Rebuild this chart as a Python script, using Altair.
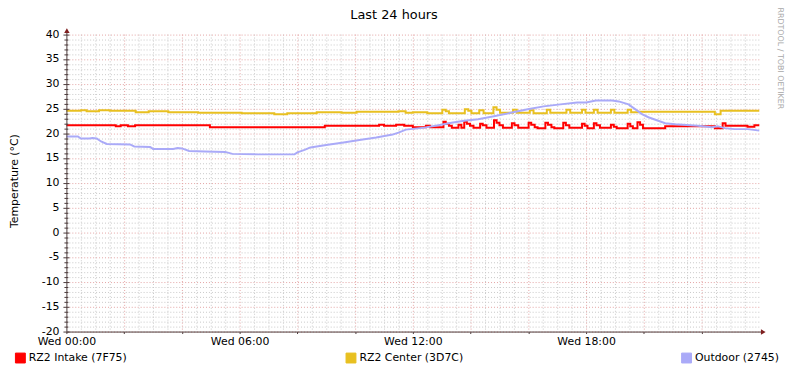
import altair as alt
import pandas as pd

# ---------------- data ----------------
series_names = ["RZ2 Intake (7F75)", "RZ2 Center (3D7C)", "Outdoor (2745)"]
series_colors = ["#FF0000", "#E8C020", "#AAAAF8"]

intake_h = [0, 1.71, 1.88, 2.13, 2.38, 4.97, 8.95, 10.83, 11.0, 11.42, 11.7, 12.0, 12.45, 12.6,
            13.06, 13.14, 13.25, 13.35, 13.58, 13.68, 13.78, 13.87, 13.98, 14.1,
            14.33, 14.42, 14.55, 14.81, 14.9, 15.0, 15.12, 15.43, 15.52, 15.65,
            16.01, 16.1, 16.22, 16.32, 16.59, 16.68, 16.8, 16.9, 17.21, 17.3, 17.42,
            17.86, 17.95, 18.05, 18.27, 18.36, 18.48, 18.86, 18.96, 19.06,
            19.44, 19.53, 19.62, 19.78, 19.87, 19.97, 20.74, 22.46, 22.73, 22.83,
            23.59, 23.83, 24.0]
intake_v = [21.7, 21.5, 21.7, 21.5, 21.7, 21.3, 21.6, 21.8, 21.6, 21.8, 21.6, 21.3, 21.6, 21.3,
            22.4, 22.0, 21.6, 21.2, 21.8, 21.2, 22.4, 22.0, 21.6, 21.2,
            22.0, 21.7, 21.2, 22.7, 22.2, 21.7, 21.2, 22.1, 21.7, 21.2,
            22.2, 21.8, 21.3, 21.1, 22.2, 21.8, 21.3, 21.1, 22.2, 21.7, 21.2,
            22.0, 21.6, 21.1, 22.1, 21.7, 21.2, 21.8, 21.4, 21.1,
            22.0, 21.5, 21.1, 22.3, 21.8, 21.1, 21.5, 21.1, 22.1, 21.6,
            21.4, 21.7, 21.7]

center_h = [0, 0.5, 0.7, 1.13, 1.5, 2.4, 2.85, 3.53, 4.56, 6.07, 7.2, 7.65, 8.67, 9.53, 10.05,
            11.5, 11.75, 12.0, 12.5,
            13.02, 13.14, 13.25, 13.8, 13.92, 14.03, 14.3, 14.45, 14.79, 14.9, 15.02,
            15.47, 15.6, 16.05, 16.18, 16.64, 16.76, 17.32, 17.45, 17.86, 17.98,
            18.27, 18.4, 18.86, 18.98, 19.44, 19.56, 19.8, 22.46, 22.66, 24.0]
center_v = [24.6, 24.7, 24.5, 24.7, 24.6, 24.3, 24.5, 24.3, 24.2, 24.1, 23.9, 24.1, 24.3, 24.2, 24.4,
            24.5, 24.2, 24.3, 24.1,
            24.8, 24.5, 24.1, 24.9, 24.6, 24.1, 24.7, 24.1, 25.3, 24.8, 24.2,
            24.8, 24.2, 24.7, 24.1, 24.8, 24.2, 24.8, 24.2, 24.8, 24.2,
            24.8, 24.2, 24.8, 24.2, 24.8, 24.3, 24.4, 23.9, 24.6, 24.6]

outdoor_h = [0, 0.4, 0.5, 0.8, 0.9, 1.05, 1.2, 1.4, 2.2, 2.35, 2.9, 3.0, 3.7, 3.85, 4.0, 4.25,
             4.8, 5.5, 5.75, 6.6, 7.9, 8.0, 8.25, 8.45, 9.0, 9.6, 10.15, 10.73, 11.3, 11.5,
             11.76, 12.4, 12.89, 13.34, 13.78, 14.26, 14.81, 15.39, 15.98, 16.53, 17.11,
             17.69, 18.0, 18.34, 18.9, 19.13, 19.47, 19.71, 19.95, 20.16, 20.4, 20.74,
             21.09, 21.87, 22.35, 22.56, 22.8, 23.14, 23.6, 24.0]
outdoor_v = [19.4, 19.4, 19.0, 19.0, 19.1, 19.0, 18.4, 17.9, 17.8, 17.4, 17.3, 16.9, 16.9, 17.1, 17.0, 16.5,
             16.4, 16.3, 15.9, 15.8, 15.8, 16.2, 16.7, 17.2, 17.7, 18.2, 18.7, 19.2, 19.8, 20.2,
             20.8, 21.2, 21.7, 22.2, 22.6, 22.9, 23.5, 24.2, 24.9, 25.5, 25.9,
             26.3, 26.3, 26.7, 26.7, 26.5, 25.9, 24.9, 23.9, 23.3, 22.8, 22.1,
             21.9, 21.6, 21.3, 21.5, 21.1, 20.9, 20.9, 20.6]

y_major = [-20, -15, -10, -5, 0, 5, 10, 15, 20, 25, 30, 35, 40]
y_labels = ["-20", "-15", "-10", "-5", "0", "5", "10", "15", "20", "25", "30", "35", "40"]
y_minor = [v for v in range(-20, 41) if v % 5 != 0]
x_major = [2, 4, 6, 8, 10, 12, 14, 16, 18, 20, 22]
x_minor = [h / 2 for h in range(1, 48) if h % 4 != 0]
x_label_hours = [0, 6, 12, 18]
x_label_text = ["Wed 00:00", "Wed 06:00", "Wed 12:00", "Wed 18:00"]

title_text = "Last 24 hours"
y_title = "Temperature (°C)"
side_text = "RRDTOOL / TOBI OETIKER"

# ---------------- tables ----------------
df_steps = pd.concat([
    pd.DataFrame({"h": intake_h, "v": intake_v, "series": series_names[0]}),
    pd.DataFrame({"h": center_h, "v": center_v, "series": series_names[1]}),
], ignore_index=True)
df_out = pd.DataFrame({"h": outdoor_h, "v": outdoor_v, "series": series_names[2]})
df_all = pd.concat([df_steps, df_out], ignore_index=True)
df_ylab = pd.DataFrame({"v": y_major, "lab": y_labels})

W, H = 700, 300
FONT = "DejaVu Sans"
AXIS_COL = "#4B3B3B"
ARROW_COL = "#7F1F1F"
MINOR_COL = "#C8C8C8"
MAJOR_COL = "#E3A3A3"

xs = alt.Scale(domain=[0, 24], nice=False, zero=False)
ys = alt.Scale(domain=[-20, 40], nice=False, zero=False)
cs = alt.Scale(domain=series_names, range=series_colors)

label_expr = " : ".join(f"datum.value == {h} ? '{t}'" for h, t in zip(x_label_hours, x_label_text)) + " : ''"

x_axis = alt.Axis(values=[0] + x_major, labelExpr=label_expr, domain=False, grid=False,
                  tickSize=2, tickColor=AXIS_COL, labelFontSize=11, labelColor="black",
                  labelFont=FONT, labelPadding=2, labelFlush=False, labelOverlap=False, title=None)

one = alt.Data(values=[{}])

# first layer carries the x axis and the legend (invisible squares)
guide_layer = alt.Chart(df_all).mark_square(size=0, filled=True).encode(
    x=alt.X("h:Q", scale=xs, axis=x_axis),
    y=alt.Y("v:Q", scale=ys, axis=None),
    color=alt.Color("series:N", scale=cs, legend=alt.Legend(
        orient="none", legendX=-52, legendY=321, direction="horizontal", title=None,
        symbolType="square", symbolSize=100, symbolStrokeColor="black", symbolStrokeWidth=1,
        symbolOpacity=1, labelFontSize=11, labelFont=FONT, labelColor="black", labelOffset=3,
        columnPadding=218, padding=0)))

grid_minor_h = alt.Chart(pd.DataFrame({"v": y_minor})).mark_rule(
    color=MINOR_COL, strokeDash=[1, 2], strokeWidth=1, yOffset=0.5).encode(
    y=alt.Y("v:Q", scale=ys), x=alt.value(0), x2=alt.value(W))
grid_major_h = alt.Chart(pd.DataFrame({"v": y_major})).mark_rule(
    color=MAJOR_COL, strokeDash=[1, 2], strokeWidth=1, yOffset=0.5).encode(
    y=alt.Y("v:Q", scale=ys), x=alt.value(0), x2=alt.value(W))
grid_minor_v = alt.Chart(pd.DataFrame({"h": x_minor})).mark_rule(
    color=MINOR_COL, strokeDash=[1, 2], strokeWidth=1, xOffset=0.5).encode(
    x=alt.X("h:Q", scale=xs), y=alt.value(0), y2=alt.value(H))
grid_major_v = alt.Chart(pd.DataFrame({"h": x_major})).mark_rule(
    color=MAJOR_COL, strokeDash=[1, 2], strokeWidth=1, xOffset=0.5).encode(
    x=alt.X("h:Q", scale=xs), y=alt.value(0), y2=alt.value(H))

minor_ticks_y = alt.Chart(pd.DataFrame({"v": y_minor})).mark_rule(
    color=AXIS_COL, strokeWidth=1, yOffset=0.5).encode(
    y=alt.Y("v:Q", scale=ys), x=alt.value(-2), x2=alt.value(2))
major_ticks_y = alt.Chart(pd.DataFrame({"v": y_major})).mark_rule(
    color=AXIS_COL, strokeWidth=1, yOffset=0.5).encode(
    y=alt.Y("v:Q", scale=ys), x=alt.value(-3), x2=alt.value(3))
y_label_marks = alt.Chart(df_ylab).mark_text(
    fontSize=11, font=FONT, color="black", align="right", baseline="middle").encode(
    y=alt.Y("v:Q", scale=ys), x=alt.value(-7), text="lab:N")

steps = alt.Chart(df_steps).mark_line(interpolate="step-after", strokeWidth=2).encode(
    x=alt.X("h:Q", scale=xs),
    y=alt.Y("v:Q", scale=ys),
    color=alt.Color("series:N", scale=cs))
outdoor = alt.Chart(df_out).mark_line(interpolate="linear", strokeWidth=2).encode(
    x=alt.X("h:Q", scale=xs),
    y=alt.Y("v:Q", scale=ys),
    color=alt.Color("series:N", scale=cs))

y_line = alt.Chart(one).mark_rule(color=AXIS_COL, strokeWidth=1, xOffset=0.5).encode(
    x=alt.value(0), y=alt.value(-4), y2=alt.value(H))
x_line = alt.Chart(one).mark_rule(color=AXIS_COL, strokeWidth=1, yOffset=0.5).encode(
    x=alt.value(0), x2=alt.value(W + 4), y=alt.value(H))
y_arrow = alt.Chart(one).mark_point(shape="triangle-up", filled=True, size=30, color=ARROW_COL, opacity=1).encode(
    x=alt.value(0.5), y=alt.value(-4))
x_arrow = alt.Chart(one).mark_point(shape="triangle-right", filled=True, size=30, color=ARROW_COL, opacity=1).encode(
    x=alt.value(W + 4), y=alt.value(H + 0.5))

title = alt.Chart(one).mark_text(fontSize=13, font=FONT, color="black", align="center", baseline="middle").encode(
    x=alt.value(331), y=alt.value(-20), text=alt.value(title_text))
ytitle = alt.Chart(one).mark_text(fontSize=11, font=FONT, color="black", align="center", baseline="middle", angle=270).encode(
    x=alt.value(-52), y=alt.value(148), text=alt.value(y_title))
side = alt.Chart(one).mark_text(fontSize=8, font=FONT, color="#A8A8A8", align="center", baseline="middle", angle=90).encode(
    x=alt.value(721), y=alt.value(24), text=alt.value(side_text))

chart = alt.layer(
    guide_layer,
    grid_minor_h, grid_minor_v, grid_major_h, grid_major_v,
    steps, outdoor,
    y_line, x_line, minor_ticks_y, major_ticks_y, y_label_marks,
    y_arrow, x_arrow, title, ytitle, side
).properties(
    width=W, height=H,
    autosize=alt.AutoSizeParams(type="none"),
    padding={"left": 59, "top": 25, "right": 30, "bottom": 40},
    background="white",
).configure(font=FONT).configure_view(stroke=None)

chart.save("out.html", embed_options={"renderer": "svg", "actions": False})
